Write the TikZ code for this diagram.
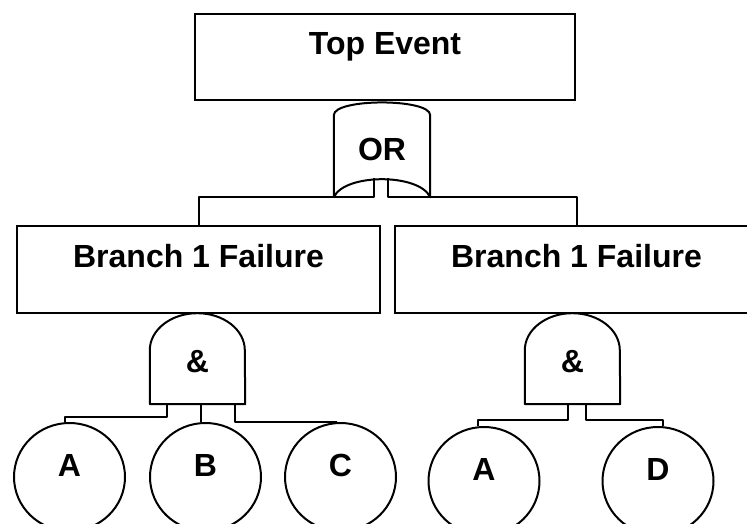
\documentclass[tikz,border=0pt]{standalone}
\usepackage{fontspec}
\setmainfont{Liberation Sans}
\usetikzlibrary{shapes.geometric}
\tikzset{
  evtbox/.style={draw, line width=2.6pt, minimum width=#1, minimum height=87pt, text height=22pt, text depth=26pt},
  gatebox/.style={minimum width=95pt, minimum height=91pt, text height=#1, text depth=0pt},
  basic/.style={draw, ellipse, line width=2pt, minimum width=111pt, minimum height=108pt, text height=22pt, text depth=23pt},
  wire/.style={line width=2pt, line join=round}
}
\begin{document}
\begin{tikzpicture}[x=1pt,y=1pt,font=\fontsize{32}{38}\selectfont\bfseries]
\path[use as bounding box, clip] (0,0) rectangle (747,523);
\node[evtbox=380pt, minimum height=86pt] (top) at (385,466) {Top Event};
\node[gatebox=22pt, minimum width=96pt, minimum height=95pt] (orgate) at (382,373.5) {OR};
\draw[wire] (orgate.south west) -- ++(0,82) .. controls +(0,17) and +(0,17) .. ([yshift=82]orgate.south east) -- (orgate.south east) .. controls +(-11,24) and +(11,24) .. (orgate.south west);
\node[evtbox=363pt] (br1) at (198.5,253.5) {Branch 1 Failure};
\node[evtbox=363pt] (br2) at (576.5,253.5) {Branch 1 Failure};
\draw[wire] ([xshift=-8,yshift=19]orgate.south) -- ([xshift=-8]orgate.south) -| (br1.north);
\draw[wire] ([xshift=6,yshift=19]orgate.south) -- ([xshift=6]orgate.south) -| (br2.north);
\node[gatebox=27pt] (and1) at (197.5,164.5) {\&};
\node[gatebox=27pt] (and2) at (572.5,164.5) {\&};
\foreach \g in {and1,and2}
  \draw[wire] (\g.south west) -- ++(0,54) arc[start angle=180, end angle=0, x radius=47.5, y radius=37] -- (\g.south east) -- cycle;
\node[basic] (a1) at (69.5,46) {A};
\node[basic] (b1) at (205.5,46) {B};
\node[basic] (c1) at (340.5,46) {C};
\node[basic] (a2) at (484,42) {A};
\node[basic] (d1) at (658,42) {D};
\draw[wire] ([xshift=-30.5]and1.south) -- ++(0,-13) -| ([xshift=-4.5]a1.north);
\draw[wire] ([xshift=3.5]and1.south) -- ([xshift=3.5]and1.south |- b1.north);
\draw[wire] ([xshift=37.5]and1.south) -- ++(0,-18) -| ([xshift=-3.5]c1.north);
\draw[wire] ([xshift=-4.5]and2.south) -- ++(0,-16) -| ([xshift=-6]a2.north);
\draw[wire] ([xshift=13.5]and2.south) -- ++(0,-16) -| ([xshift=5]d1.north);
\end{tikzpicture}
\end{document}
